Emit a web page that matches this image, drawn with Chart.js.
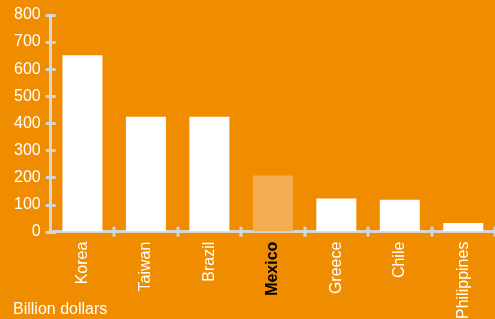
<!DOCTYPE html>
<html>
<head>
<meta charset="utf-8">
<script src="https://cdn.jsdelivr.net/npm/chart.js@4"></script>
<style>
  html, body { margin: 0; padding: 0; background: #f08c00; }
  #wrap { position: relative; width: 495px; height: 319px; }
  #unit { position: absolute; left: 13px; top: 300px; color: #fff; font: 16px "Liberation Sans", Arial, sans-serif; }
</style>
</head>
<body>
<div id="wrap">
  <canvas id="chart" width="495" height="319"></canvas>
  <div id="unit">Billion dollars</div>
</div>
<script>
const countries = ['Korea', 'Taiwan', 'Brazil', 'Mexico', 'Greece', 'Chile', 'Philippines'];
const values = [651, 424, 424, 207, 122, 118, 32];
const yTicks = [0, 100, 200, 300, 400, 500, 600, 700, 800];
const highlight = 'Mexico';

const axisColor = '#d6d6d6';

// tick marks that cross the axis lines
const crossTicks = {
  id: 'crossTicks',
  afterDatasetsDraw(chart) {
    const c = chart.ctx;
    const x = chart.scales.x, y = chart.scales.y;
    c.save();
    c.strokeStyle = axisColor;
    c.lineWidth = 3;
    yTicks.forEach(v => {
      const py = Math.round(y.getPixelForValue(v)) + 0.5;
      c.beginPath();
      c.moveTo(x.left - 5, py);
      c.lineTo(x.left + 5, py);
      c.stroke();
    });
    for (let i = 1; i <= countries.length; i++) {
      const px = Math.round(x.getPixelForValue(i - 0.5));
      c.beginPath();
      c.moveTo(px, y.bottom - 5);
      c.lineTo(px, y.bottom + 5);
      c.stroke();
    }
    c.restore();
  }
};

new Chart(document.getElementById('chart'), {
  type: 'bar',
  data: {
    labels: countries,
    datasets: [{
      data: values,
      backgroundColor: countries.map(c => c === highlight ? '#f4ae52' : '#ffffff'),
      borderWidth: 0,
      categoryPercentage: 1,
      barPercentage: 0.63
    }]
  },
  options: {
    responsive: false,
    animation: false,
    layout: { padding: { left: 4, top: 15, right: 0, bottom: -10 } },
    plugins: { legend: { display: false }, tooltip: { enabled: false } },
    scales: {
      x: {
        grid: { display: false, drawTicks: false },
        border: { color: axisColor, width: 3 },
        ticks: {
          minRotation: 90,
          maxRotation: 90,
          padding: 10,
          color: ctx => countries[ctx.index] === highlight ? '#000' : '#fff',
          font: ctx => ({
            family: '"Liberation Sans", Arial, sans-serif',
            size: 16,
            weight: countries[ctx.index] === highlight ? 'bold' : 'normal'
          })
        }
      },
      y: {
        min: 0,
        max: 800,
        grid: { display: false, drawTicks: false },
        border: { color: axisColor, width: 3 },
        afterBuildTicks: axis => { axis.ticks = yTicks.map(v => ({ value: v })); },
        afterFit: axis => { axis.paddingTop = 0; },
        ticks: {
          padding: 10,
          color: '#fff',
          font: { family: '"Liberation Sans", Arial, sans-serif', size: 16 }
        }
      }
    }
  },
  plugins: [crossTicks]
});
</script>
</body>
</html>
